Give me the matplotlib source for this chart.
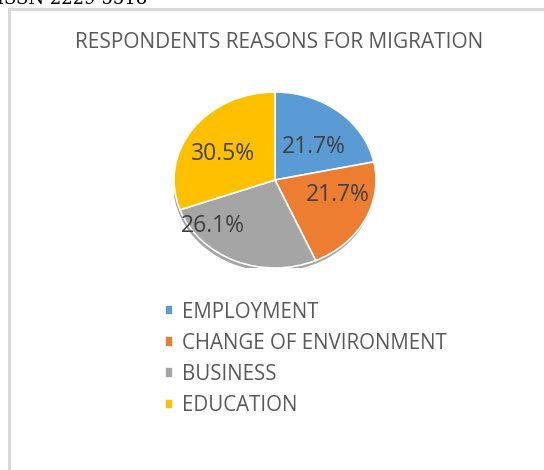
import matplotlib
matplotlib.use("Agg")
import matplotlib.pyplot as plt
from matplotlib.patches import Rectangle, Ellipse

categories = ["EMPLOYMENT", "CHANGE OF ENVIRONMENT", "BUSINESS", "EDUCATION"]
values = [21.7, 21.7, 26.1, 30.5]
colors = ["#5B9BD5", "#ED7D31", "#A5A5A5", "#FFC000"]
title = "RESPONDENTS REASONS FOR MIGRATION"
header = "ISSN 2229-5518"

# label positions (data coords of the pie axes), styling only
label_pos = [(0.38, 0.38), (0.62, -0.17), (-0.62, -0.52), (-0.51, 0.30)]

W, H = 544, 470
fig = plt.figure(figsize=(W / 100, H / 100), dpi=100)
fig.patch.set_facecolor("white")

# frame
fig.add_artist(Rectangle((9 / W, -0.1), 1.2, (H - 9) / H + 0.1, transform=fig.transFigure,
                         fill=False, edgecolor="#d9d9d9", linewidth=2.2))
fig.text(-0.005, 1.0 + 1 / H, header, ha="left", va="center", fontsize=13,
         family="DejaVu Serif", color="#000000")

fig.text(279 / W, 1 - 42 / H, title, ha="center", va="center", fontsize=15,
         family="Open Sans", color="#595959")

# pie axes: ellipse centered at (275,180)
cx, cy, rx, ry = 275, 180, 101, 88
ax = fig.add_axes([(cx - rx) / W, 1 - (cy + ry) / H, 2 * rx / W, 2 * ry / H])
ax.add_patch(Ellipse((-0.01, -0.04), 2.0, 2.0, color="#5a5a5a", alpha=0.55, zorder=0, linewidth=0))
wedges, texts, autotexts = ax.pie(values, colors=colors, startangle=90, counterclock=False,
                                  autopct="%1.1f%%", pctdistance=0.62,
                                  wedgeprops=dict(edgecolor="white", linewidth=1.2),
                                  textprops=dict(fontsize=16.5, color="#404040", family="Open Sans"))
for t, p in zip(autotexts, label_pos):
    t.set_position(p)
ax.set_aspect("auto")
ax.set_xlim(-1, 1)
ax.set_ylim(-1, 1)
ax.axis("off")

# legend
leg = fig.legend(wedges, categories, loc="upper left", bbox_to_anchor=(146 / W, 1 - 283 / H),
                 frameon=False, prop=dict(family="Open Sans", size=14.8),
                 labelcolor="#595959", handlelength=0.42, handleheight=0.42,
                 handletextpad=0.45, labelspacing=0.5)

fig.savefig("out.png", dpi=100)
